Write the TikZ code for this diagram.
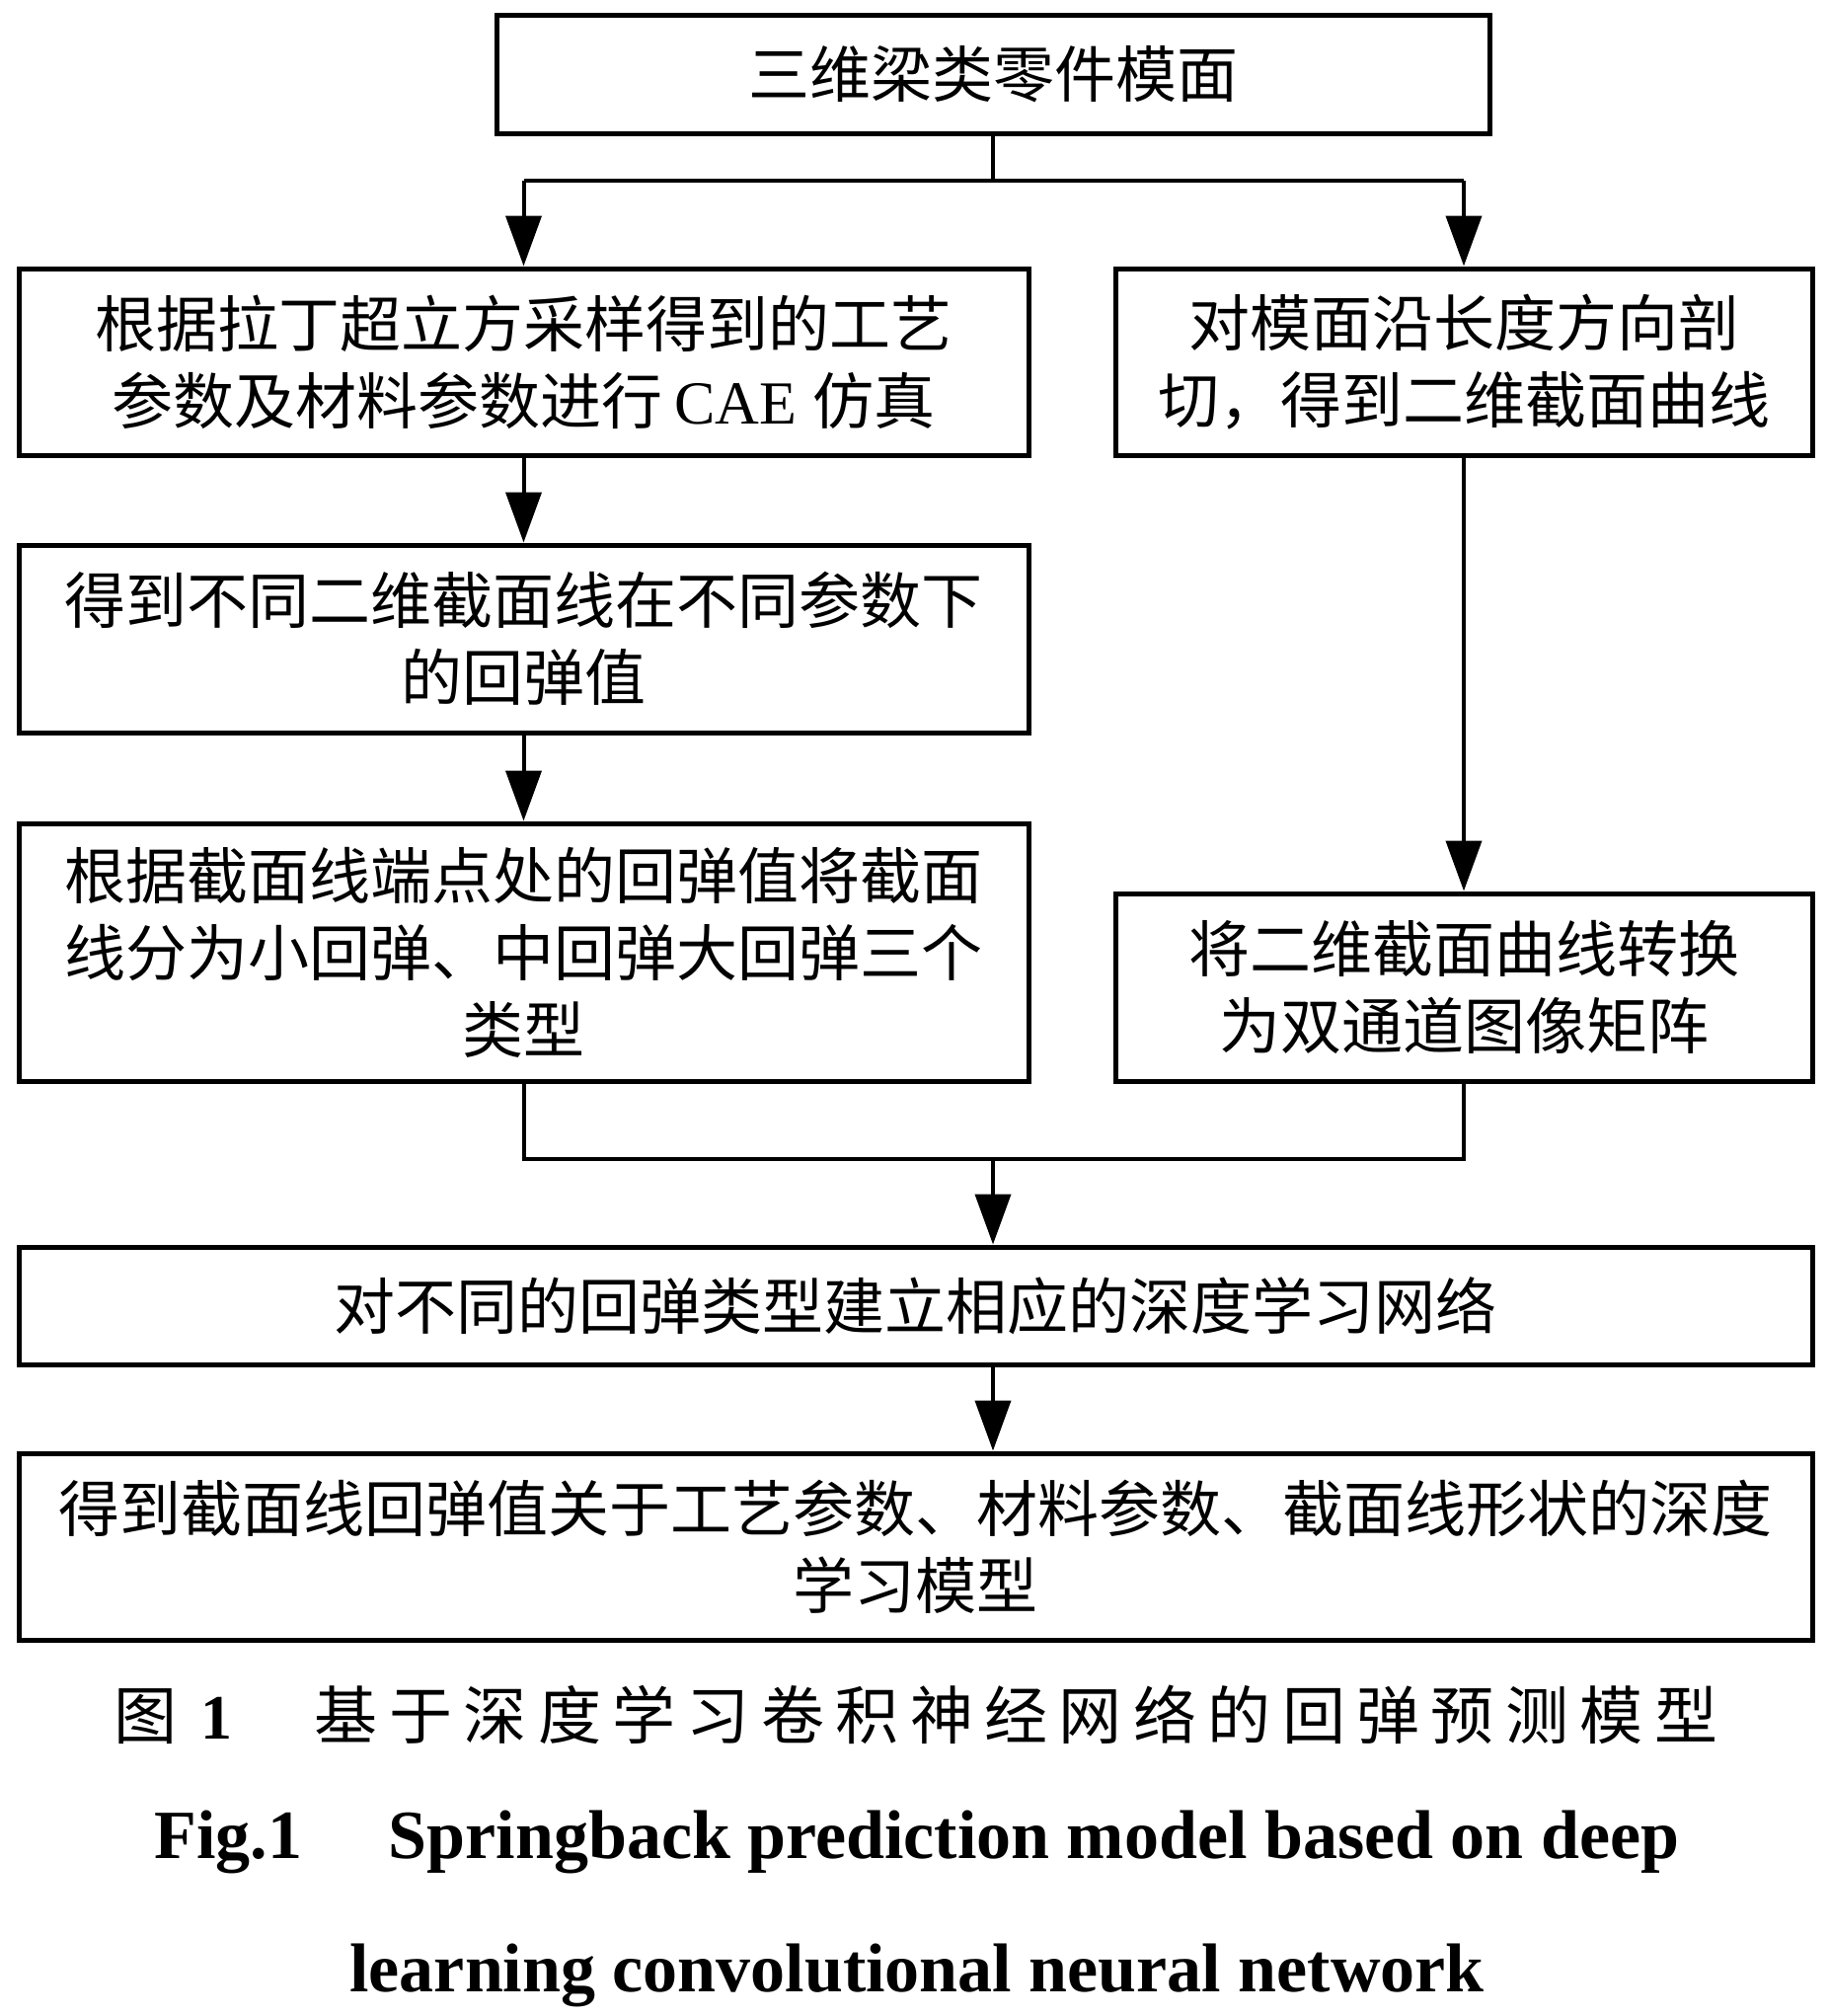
\documentclass[tikz,border=0pt]{standalone}
\usepackage{fontspec}
\setmainfont{Noto Sans CJK SC}
\newfontfamily\tnr{Liberation Serif}
\usetikzlibrary{arrows.meta}
\newcommand\boxfont{\fontsize{62pt}{78pt}\selectfont}
\newcommand\capfont{\fontsize{64pt}{78pt}\selectfont}
\newcommand\engfont{\tnr\bfseries\fontsize{70pt}{84pt}\selectfont}
\newcommand\cgap{\kern11.4pt}
\begin{document}
\begin{tikzpicture}[x=1pt,y=-1pt,
  box/.style={draw, line width=5pt, inner sep=0pt, align=center, font=\boxfont},
  conn/.style={line width=4pt},
  arr/.style={conn, -{Triangle[length=51pt,width=36pt]}}]
\useasboundingbox (0,0) rectangle (1852,2042);

\node[box, minimum width=1006pt, minimum height=119pt] (top) at (1006,75.5) {三维梁类零件模面};
\node[box, minimum width=1023pt, minimum height=189pt] (L1) at (530.5,366.5)
  {根据拉丁超立方采样得到的工艺\\参数及材料参数进行\kern12pt{\tnr CAE}\kern16pt 仿真};
\node[box, minimum width=706pt, minimum height=189pt] (R1) at (1483,366.5)
  {对模面沿长度方向剖\\切，得到二维截面曲线};
\node[box, minimum width=1023pt, minimum height=190pt] (L2) at (530.5,647)
  {得到不同二维截面线在不同参数下\\的回弹值};
\node[box, minimum width=1023pt, minimum height=261pt] (L3) at (530.5,964.5)
  {根据截面线端点处的回弹值将截面\\线分为小回弹、中回弹大回弹三个\\类型};
\node[box, minimum width=706pt, minimum height=190pt] (R2) at (1483,1000)
  {将二维截面曲线转换\\为双通道图像矩阵};
\node[box, minimum width=1817pt, minimum height=119pt] (B4) at (927.5,1322.5)
  {对不同的回弹类型建立相应的深度学习网络};
\node[box, minimum width=1817pt, minimum height=189pt] (B5) at (927.5,1566.5)
  {得到截面线回弹值关于工艺参数、材料参数、截面线形状的深度\\学习模型};

\coordinate (split) at (1006,183);
\coordinate (merge) at (1006,1174);

\draw[conn] (top.south) -- (split);
\draw[conn] (L1.north |- split) -- (R1.north |- split);
\draw[arr] (L1.north |- split) -- (L1.north);
\draw[arr] (R1.north |- split) -- (R1.north);
\draw[arr] (L1.south) -- (L2.north);
\draw[arr] (L2.south) -- (L3.north);
\draw[arr] (R1.south) -- (R2.north);
\draw[conn] (L3.south) -- (L3.south |- merge) -- (R2.south |- merge) -- (R2.south);
\draw[arr] (merge) -- (B4.north -| merge);
\draw[arr] (B4.south -| merge) -- (B5.north -| merge);

\node[anchor=base, inner sep=0pt, font=\capfont] (cap1) at (928,1761)
  {图\kern24pt{\tnr\bfseries 1}\kern83pt 基\cgap 于\cgap 深\cgap 度\cgap 学\cgap 习\cgap 卷\cgap 积\cgap 神\cgap 经\cgap 网\cgap 络\cgap 的\cgap 回\cgap 弹\cgap 预\cgap 测\cgap 模\cgap 型};
\node[anchor=base, inner sep=0pt, font=\engfont] (cap2) at (929,1882)
  {Fig.1\hspace{1.25em}Springback prediction model based on deep};
\node[anchor=base, inner sep=0pt, font=\engfont] (cap3) at (929,2017)
  {learning convolutional neural network};
\end{tikzpicture}
\end{document}
